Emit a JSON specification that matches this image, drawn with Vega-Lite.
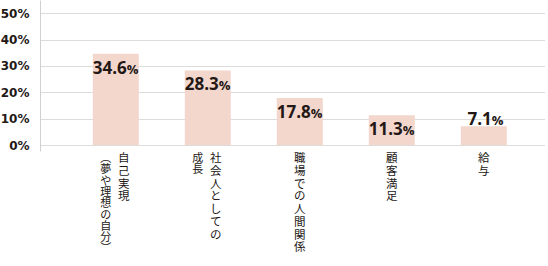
{
  "$schema": "https://vega.github.io/schema/vega-lite/v6.json",
  "width": 505,
  "height": 151,
  "padding": {"left": 0, "top": 0, "right": 0, "bottom": 0},
  "background": "#ffffff",
  "data": {
    "values": [
      {"cat": "自己実現（夢や理想の自分）", "label1": "自己実現", "label2": "︵夢や理想の自分︶", "value": 34.6},
      {"cat": "社会人としての成長", "label1": "社会人としての", "label2": "成長", "value": 28.3},
      {"cat": "職場での人間関係", "label1": "職場での人間関係", "label2": "", "value": 17.8},
      {"cat": "顧客満足", "label1": "顧客満足", "label2": "", "value": 11.3},
      {"cat": "給与", "label1": "給与", "label2": "", "value": 7.1}
    ]
  },
  "transform": [
    {"calculate": "split(datum.label1, '')", "as": "chars1"},
    {"calculate": "split(datum.label2, '')", "as": "chars2"}
  ],
  "encoding": {
    "x": {
      "field": "cat",
      "type": "nominal",
      "sort": null,
      "scale": {"paddingInner": 0.5, "paddingOuter": 0.4946, "align": 0.58},
      "axis": {"labels": false, "ticks": false, "domain": false, "title": null, "grid": false}
    },
    "y": {
      "field": "value",
      "type": "quantitative",
      "scale": {"domain": [-2.27, 55], "nice": false, "zero": false},
      "axis": {
        "values": [0, 10, 20, 30, 40, 50],
        "labelExpr": "datum.value + '%'",
        "labelOverlap": false,
        "title": null,
        "ticks": false,
        "labelPadding": 11,
        "labelFont": "DejaVu Sans",
        "labelFontWeight": "bold",
        "labelFontSize": 12,
        "labelColor": "#231815",
        "grid": true,
        "gridColor": "#dcdcdc",
        "domainColor": "#d0d0d0"
      }
    }
  },
  "layer": [
    {
      "mark": {"type": "bar", "color": "#f3d7cd"},
      "encoding": {
        "y2": {"datum": 0}
      }
    },
    {
      "transform": [{"filter": "datum.value >= 10"}],
      "mark": {"type": "text", "align": "right", "baseline": "alphabetic", "dx": 11, "dy": 20, "font": "Open Sans", "fontWeight": "bold", "fontSize": 17, "color": "#231815"},
      "encoding": {
        "text": {"field": "value", "type": "quantitative", "format": ".1f"}
      }
    },
    {
      "transform": [{"filter": "datum.value >= 10"}],
      "mark": {"type": "text", "align": "left", "baseline": "alphabetic", "dx": 11, "dy": 20, "font": "Open Sans", "fontWeight": "bold", "fontSize": 13, "color": "#231815", "text": "%"},
      "encoding": {}
    },
    {
      "transform": [{"filter": "datum.value < 10"}],
      "mark": {"type": "text", "align": "right", "baseline": "alphabetic", "dx": 8, "dy": -1, "font": "Open Sans", "fontWeight": "bold", "fontSize": 17, "color": "#231815"},
      "encoding": {
        "text": {"field": "value", "type": "quantitative", "format": ".1f"}
      }
    },
    {
      "transform": [{"filter": "datum.value < 10"}],
      "mark": {"type": "text", "align": "left", "baseline": "alphabetic", "dx": 8, "dy": -1, "font": "Open Sans", "fontWeight": "bold", "fontSize": 13, "color": "#231815", "text": "%"},
      "encoding": {}
    },
    {
      "transform": [{"filter": "datum.label2 == ''"}],
      "mark": {"type": "text", "align": "center", "baseline": "top", "dy": 8, "font": "Noto Sans CJK JP", "fontSize": 11.5, "lineHeight": 12.75, "color": "#231815"},
      "encoding": {
        "y": {"datum": 0, "type": "quantitative"},
        "text": {"field": "chars1"}
      }
    },
    {
      "transform": [{"filter": "datum.label2 != ''"}],
      "mark": {"type": "text", "align": "center", "baseline": "top", "dx": 8, "dy": 8, "font": "Noto Sans CJK JP", "fontSize": 11.5, "lineHeight": 12.75, "color": "#231815"},
      "encoding": {
        "y": {"datum": 0, "type": "quantitative"},
        "text": {"field": "chars1"}
      }
    },
    {
      "transform": [{"filter": "datum.label2 != ''"}],
      "mark": {"type": "text", "align": "center", "baseline": "top", "dx": -10, "dy": 8, "font": "Noto Sans CJK JP", "fontSize": 11, "lineHeight": 11.3, "color": "#231815"},
      "encoding": {
        "y": {"datum": 0, "type": "quantitative"},
        "text": {"field": "chars2"}
      }
    }
  ],
  "config": {
    "view": {"stroke": null}
  }
}
